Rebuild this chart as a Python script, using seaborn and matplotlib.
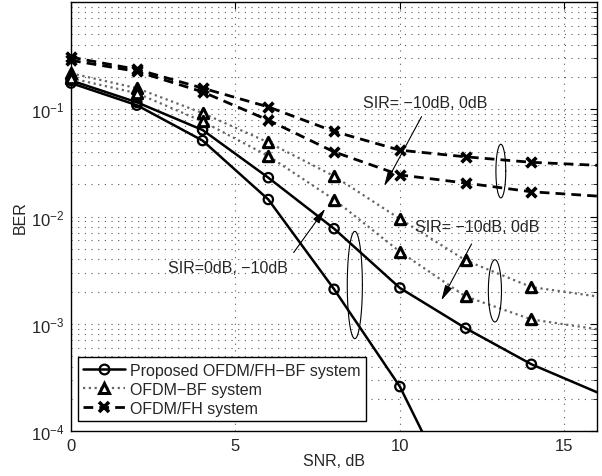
import numpy as np
import pandas as pd
import matplotlib.pyplot as plt
import seaborn as sns
from matplotlib.lines import Line2D
from matplotlib.ticker import LogLocator, NullFormatter, FixedLocator

# SNR grid (dB)
snr = [0, 2, 4, 6, 8, 10, 12, 14, 16]
snr_steep = [0, 2, 4, 6, 8, 10, 12]

# Proposed OFDM/FH-BF system
ber_prop_sir0 = [0.185, 0.116, 0.064, 0.023, 0.0077, 0.00216, 0.00091, 0.00042, 0.00023]
ber_prop_sir10 = [0.175, 0.109, 0.051, 0.0144, 0.0021, 0.00026, 0.000015]

# OFDM-BF system
ber_bf_sir10 = [0.216, 0.157, 0.092, 0.049, 0.0238, 0.0095, 0.0039, 0.0022, 0.0018]
ber_bf_sir0 = [0.194, 0.141, 0.077, 0.0366, 0.0144, 0.0047, 0.0018, 0.0011, 0.00089]

# OFDM/FH system
ber_fh_sir10 = [0.305, 0.235, 0.157, 0.105, 0.062, 0.0415, 0.036, 0.032, 0.030]
ber_fh_sir0 = [0.285, 0.225, 0.145, 0.079, 0.040, 0.0244, 0.0205, 0.017, 0.0155]

legend_labels = ['Proposed OFDM/FH\u2212BF system', 'OFDM\u2212BF system', 'OFDM/FH system']

sns.set_style('white')
plt.rcParams['font.family'] = ['Liberation Sans', 'DejaVu Sans']
plt.rcParams['font.size'] = 11.5

fig = plt.figure(figsize=(6.02, 4.77), dpi=100)
ax = fig.add_axes([0.118, 0.094, 0.874, 0.9])

# line and marker styles for the three systems
styles = {
    'prop': dict(line=dict(color='k', lw=1.8, ls='-'),
                 mark=dict(marker='o', s=45, facecolor='none', edgecolor='k', linewidth=1.6)),
    'bf': dict(line=dict(color='0.4', lw=1.6, ls=(0, (1, 1.6))),
               mark=dict(marker='^', s=55, facecolor='white', edgecolor='k', linewidth=2.2)),
    'fh': dict(line=dict(color='k', lw=2.0, ls=(0, (3.5, 2.2))),
               mark=dict(marker='x', s=50, color='k', linewidth=2.6)),
}

curves = [
    ('prop', snr, ber_prop_sir0),
    ('prop', snr_steep, ber_prop_sir10),
    ('bf', snr, ber_bf_sir10),
    ('bf', snr, ber_bf_sir0),
    ('fh', snr, ber_fh_sir10),
    ('fh', snr, ber_fh_sir0),
]

for key, xs, ys in curves:
    sns.lineplot(x=xs, y=ys, ax=ax, zorder=3, **styles[key]['line'])
    # markers only at the simulated points inside the plotted window
    df = pd.DataFrame({'snr': xs, 'ber': ys})
    df = df[(df['snr'] <= 14) & (df['ber'] >= 1e-4)]
    sns.scatterplot(data=df, x='snr', y='ber', ax=ax, clip_on=False, zorder=4,
                    **styles[key]['mark'])

ax.set_yscale('log')
ax.set_xlim(0, 16)
ax.set_ylim(1e-4, 1)
ax.xaxis.set_major_locator(FixedLocator([0, 5, 10, 15]))
ax.yaxis.set_major_locator(FixedLocator([1e-4, 1e-3, 1e-2, 1e-1]))
ax.yaxis.set_minor_locator(LogLocator(base=10, subs=np.arange(2, 10), numticks=20))
ax.yaxis.set_minor_formatter(NullFormatter())

grid_ls = (0, (1, 5))
ax.grid(True, which='major', axis='both', color='0.35', ls=grid_ls, lw=0.8)
ax.grid(True, which='minor', axis='y', color='0.35', ls=grid_ls, lw=0.8)
ax.tick_params(which='both', direction='in', top=True, right=True, labelsize=12,
               color='k')
ax.tick_params(which='major', length=5, pad=5)
ax.tick_params(which='minor', length=3)
for sp in ax.spines.values():
    sp.set_color('k')
    sp.set_linewidth(1.0)

ax.set_xlabel('SNR, dB', fontsize=11.5, labelpad=0)
ax.set_ylabel('BER', fontsize=11.5, labelpad=2)


# ellipses grouping the curve pairs (x width in dB, height in decades)
def ring(xc, yc, w, dec):
    t = np.linspace(0, 2 * np.pi, 200)
    ax.plot(xc + w / 2 * np.cos(t), yc * 10 ** (dec / 2 * np.sin(t)), color='k', lw=0.8,
            zorder=5)


ring(8.63, 2.3e-3, 0.46, 1.0)
ring(13.07, 2.65e-2, 0.30, 0.5)
ring(12.89, 2.03e-3, 0.40, 0.58)

arrow = dict(arrowstyle='-|>,head_length=0.8,head_width=0.2', lw=0.8, color='k')
ax.annotate('', xy=(7.78, 0.0124), xytext=(6.72, 0.0044), arrowprops=arrow, zorder=5)
ax.annotate('', xy=(9.48, 0.0182), xytext=(10.70, 0.0898), arrowprops=arrow, zorder=5)
ax.annotate('', xy=(11.22, 0.00157), xytext=(12.22, 0.00585), arrowprops=arrow, zorder=5)

ax.text(4.77, 0.00336, 'SIR=0dB, \u221210dB', ha='center', va='center', fontsize=11.5)
ax.text(10.76, 0.116, 'SIR= \u221210dB, 0dB', ha='center', va='center', fontsize=11.5)
ax.text(12.34, 0.00807, 'SIR= \u221210dB, 0dB', ha='center', va='center', fontsize=11.5)

# legend entries combine the line style with the marker
handles = []
for key in ['prop', 'bf', 'fh']:
    ln = styles[key]['line']
    mk = styles[key]['mark']
    handles.append(Line2D([], [], color=ln['color'], lw=ln['lw'], ls=ln['ls'],
                          marker=mk['marker'], ms=7,
                          mfc=mk.get('facecolor', 'k'),
                          mec=mk.get('edgecolor', mk.get('color', 'k')),
                          mew=mk['linewidth']))

leg = ax.legend(handles, legend_labels, loc='lower left', bbox_to_anchor=(0.013, 0.023),
                borderaxespad=0, frameon=True, fancybox=False, edgecolor='k',
                framealpha=1, handlelength=2.6, handletextpad=0.3, labelspacing=0.25,
                borderpad=0.35, fontsize=11.5)
leg.get_frame().set_linewidth(1.0)
leg.set_zorder(6)

fig.savefig('out.png', dpi=100)
